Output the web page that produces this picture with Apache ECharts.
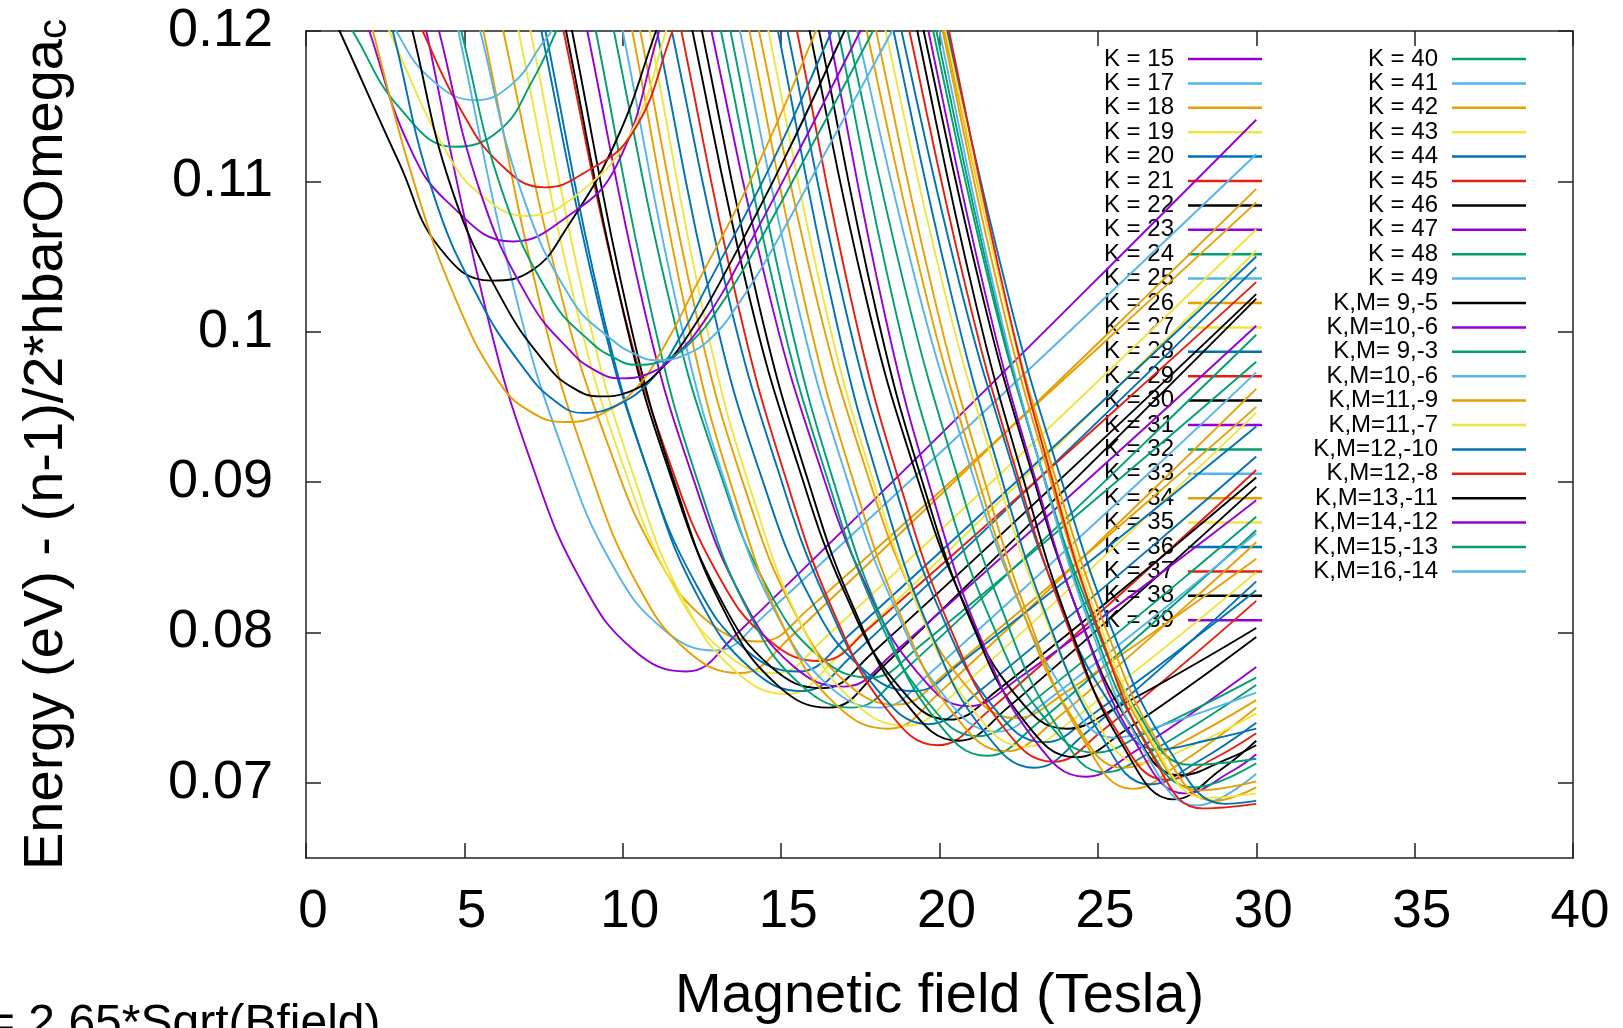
<!DOCTYPE html>
<html>
<head>
<meta charset="utf-8">
<title>Energy vs magnetic field</title>
<script src="https://cdn.jsdelivr.net/npm/echarts@6/dist/echarts.min.js"></script>
<style>
  html, body { margin: 0; padding: 0; background: #ffffff; }
  #chart { width: 1623px; height: 1028px; }
</style>
</head>
<body>
<div id="chart"></div>
<script>
// gnuplot default line colours, in plotting order
const lineColors = ['#9400d3', '#009e73', '#56b4e9', '#e69f00', '#f0e442', '#0072b2', '#e51e10', '#000000'];

// Axis ticks
const xTicks = [0, 5, 10, 15, 20, 25, 30, 35, 40];
const yTicks = [0.07, 0.08, 0.09, 0.1, 0.11, 0.12];

// ---- Energy curves [B (Tesla), E (eV)] ----
const k15  = [[3.35,.125],[3.8,.12],[5.65,.1017],[7.16,.0910],[8.72,.0833],[10.36,.0788],[12.0,.0774],[13.5,.0797],[30,.1141]];
const k17  = [[4.36,.125],[4.81,.12],[6.63,.1023],[8.13,.0920],[9.67,.0845],[11.29,.0802],[12.91,.0788],[14.41,.0810],[30,.1118]];
const k18a = [[5.15,.125],[5.6,.12],[7.42,.1016],[8.92,.0910],[10.46,.0832],[12.08,.0787],[13.7,.0773],[15.2,.0795],[30,.1095]];
const k18b = [[5.78,.125],[6.23,.12],[8.05,.1025],[9.55,.0924],[11.09,.0850],[12.71,.0807],[14.33,.0794],[15.83,.0815],[30,.1086]];
const k19a = [[6.26,.125],[6.71,.12],[8.53,.1016],[10.03,.0910],[11.57,.0832],[13.19,.0787],[14.81,.0773],[16.31,.0795],[30,.1068]];
const k19b = [[6.64,.125],[7.09,.12],[8.91,.1010],[10.41,.0900],[11.95,.0820],[13.57,.0774],[15.19,.0759],[16.69,.0782],[30,.1054]];
const k20a = [[6.98,.125],[7.43,.12],[9.25,.1017],[10.75,.0910],[12.29,.0833],[13.91,.0788],[15.53,.0774],[17.03,.0796],[30,.1050]];
const k20b = [[7.11,.125],[7.56,.12],[9.38,.1011],[10.88,.0902],[12.42,.0822],[14.04,.0776],[15.66,.0761],[17.16,.0783],[30,.1043]];
const k21  = [[7.68,.125],[8.13,.12],[9.95,.1020],[11.45,.0915],[12.99,.0839],[14.61,.0795],[16.23,.0781],[17.73,.0802],[30,.1033]];
const k22a = [[7.76,.125],[8.21,.12],[10.03,.1012],[11.53,.0903],[13.07,.0823],[14.69,.0777],[16.31,.0763],[17.81,.0785],[30,.1025]];
const k22b = [[7.95,.125],[8.4,.12],[10.22,.1007],[11.72,.0894],[13.26,.0812],[14.88,.0765],[16.5,.0750],[18.0,.0773],[30,.1022]];
const k23  = [[8.43,.125],[8.88,.12],[10.7,.1013],[12.2,.0904],[13.74,.0824],[15.36,.0778],[16.98,.0764],[18.48,.0785],[30,.1004]];
const k24a = [[8.7,.125],[9.15,.12],[10.97,.1007],[12.47,.0894],[14.01,.0812],[15.63,.0765],[17.25,.0750],[18.75,.0772],[30,.0998]];
const k24b = [[9.27,.125],[9.72,.12],[11.54,.1015],[13.04,.0908],[14.58,.0829],[16.2,.0784],[17.82,.0770],[19.32,.0790],[30,.0980]];
const k25  = [[9.55,.125],[10.0,.12],[11.82,.1007],[13.32,.0894],[14.86,.0812],[16.48,.0765],[18.1,.0750],[19.6,.0771],[30,.0973]];
const k26a = [[9.85,.125],[10.3,.12],[12.12,.1001],[13.62,.0885],[15.16,.0800],[16.78,.0751],[18.4,.0736],[19.9,.0758],[30,.0962]];
const k26b = [[10.1,.125],[10.55,.12],[12.37,.1007],[13.87,.0895],[15.41,.0814],[17.03,.0767],[18.65,.0752],[20.15,.0772],[30,.0950]];
const k27  = [[10.4,.125],[10.85,.12],[12.67,.1001],[14.17,.0886],[15.71,.0802],[17.33,.0753],[18.95,.0738],[20.45,.0759],[30,.0946]];
const k28a = [[10.63,.125],[11.08,.12],[12.9,.1011],[14.4,.0902],[15.94,.0822],[17.56,.0776],[19.18,.0761],[20.68,.0780],[30,.0937]];
const k28b = [[11.1,.125],[11.55,.12],[13.37,.1020],[14.87,.0910],[16.41,.0822],[18.03,.0762],[19.65,.0739],[21.15,.0759],[30,.0917]];
const k29  = [[11.4,.125],[11.85,.12],[13.67,.1015],[15.17,.0901],[16.71,.0811],[18.33,.0749],[19.95,.0725],[21.45,.0746],[30,.0908]];
const k30a = [[11.75,.125],[12.2,.12],[14.02,.1021],[15.52,.0912],[17.06,.0824],[18.68,.0765],[20.3,.0742],[21.8,.0761],[30,.0903]];
const k30b = [[12.05,.125],[12.5,.12],[14.32,.1016],[15.82,.0903],[17.36,.0813],[18.98,.0752],[20.6,.0728],[22.1,.0749],[30,.0897]];
const k31  = [[12.35,.125],[12.8,.12],[14.62,.1025],[16.12,.0917],[17.66,.0832],[19.28,.0774],[20.9,.0751],[22.4,.0768],[30,.0888]];
const k32a = [[12.65,.125],[13.1,.12],[14.92,.1017],[16.42,.0905],[17.96,.0815],[19.58,.0755],[21.2,.0731],[22.7,.0750],[30,.0877]];
const k32b = [[12.95,.125],[13.4,.12],[15.22,.1012],[16.72,.0896],[18.26,.0805],[19.88,.0742],[21.5,.0718],[23.0,.0738],[30,.0868]];
const k33  = [[13.25,.125],[13.7,.12],[15.52,.1018],[17.02,.0906],[18.56,.0818],[20.18,.0757],[21.8,.0734],[23.3,.0753],[30,.0866]];
const k34a = [[13.55,.125],[14.0,.12],[15.82,.1013],[17.32,.0898],[18.86,.0807],[20.48,.0745],[22.1,.0721],[23.6,.0741],[30,.0860]];
const k34b = [[13.85,.125],[14.3,.12],[16.12,.1022],[17.62,.0912],[19.16,.0825],[20.78,.0766],[22.4,.0743],[23.9,.0759],[30,.0849]];
const k35  = [[14.15,.125],[14.6,.12],[16.42,.1014],[17.92,.0900],[19.46,.0810],[21.08,.0748],[22.7,.0724],[24.2,.0742],[30,.0840]];
const k36a = [[14.45,.125],[14.9,.12],[16.72,.1009],[18.22,.0891],[19.76,.0798],[21.38,.0735],[23.0,.0710],[24.5,.0731],[30,.0834]];
const k36b = [[14.75,.125],[15.2,.12],[17.02,.1016],[18.52,.0902],[20.06,.0812],[21.68,.0751],[23.3,.0727],[24.8,.0745],[30,.0828]];
const k37  = [[15.05,.125],[15.5,.12],[17.32,.1011],[18.82,.0894],[20.36,.0802],[21.98,.0738],[23.6,.0714],[25.1,.0734],[30,.0821]];
const k38a = [[15.45,.125],[15.9,.12],[17.72,.1019],[19.22,.0908],[20.76,.0820],[22.38,.0759],[24.0,.0736],[25.5,.0749],[30,.0803]];
const k38b = [[15.75,.125],[16.2,.12],[18.02,.1012],[19.52,.0896],[21.06,.0804],[22.68,.0741],[24.3,.0717],[25.8,.0734],[30,.0797]];
const k39  = [[16.05,.125],[16.5,.12],[18.32,.1007],[19.82,.0888],[21.36,.0793],[22.98,.0729],[24.6,.0704],[26.1,.0720],[30,.0777]];
const k40a = [[16.35,.125],[16.8,.12],[18.62,.1013],[20.12,.0898],[21.66,.0806],[23.28,.0744],[24.9,.0720],[26.4,.0732],[30,.0770]];
const k40b = [[16.65,.125],[17.1,.12],[18.92,.1028],[20.42,.0914],[21.96,.0816],[23.58,.0742],[25.2,.0707],[26.7,.0721],[30,.0765]];
const k41  = [[16.95,.125],[17.4,.12],[19.22,.1036],[20.72,.0927],[22.26,.0833],[23.88,.0763],[25.5,.0730],[27.0,.0738],[30,.0760]];
const k42a = [[17.25,.125],[17.7,.12],[19.52,.1029],[21.02,.0916],[22.56,.0818],[24.18,.0744],[25.8,.0710],[27.3,.0723],[30,.0755]];
const k42b = [[17.55,.125],[18.0,.12],[19.82,.1024],[21.32,.0908],[22.86,.0807],[24.48,.0731],[26.1,.0696],[27.6,.0713],[30,.0750]];
const k43  = [[17.85,.125],[18.3,.12],[20.12,.1030],[21.62,.0918],[23.16,.0820],[24.78,.0747],[26.4,.0713],[27.9,.0724],[30,.0746]];
const k44a = [[18.1,.125],[18.55,.12],[20.37,.1025],[21.87,.0909],[23.41,.0809],[25.03,.0734],[26.65,.0699],[28.15,.0714],[30,.0740]];
const k44b = [[18.35,.125],[18.8,.12],[20.62,.1033],[22.12,.0923],[23.66,.0827],[25.28,.0756],[26.9,.0722],[28.4,.0728],[30,.0736]];
const k45  = [[18.6,.125],[19.05,.12],[20.87,.1026],[22.37,.0911],[23.91,.0812],[25.53,.0737],[27.15,.0702],[28.65,.0716],[30,.0733]];
const k46a = [[18.85,.125],[19.3,.12],[21.12,.1021],[22.62,.0904],[24.16,.0801],[25.78,.0725],[27.4,.0689],[28.9,.0709],[30,.0728]];
const k46b = [[19.05,.125],[19.5,.12],[21.32,.1027],[22.82,.0913],[24.36,.0814],[25.98,.0740],[27.6,.0705],[29.1,.0716],[30,.0725]];
const k47  = [[19.2,.125],[19.65,.12],[21.47,.1023],[22.97,.0906],[24.51,.0805],[26.13,.0729],[27.75,.0693],[29.25,.0708],[30,.0719]];
const k48a = [[19.35,.125],[19.8,.12],[21.62,.1028],[23.12,.0916],[24.66,.0819],[26.28,.0746],[27.9,.0712],[30,.0716]];
const k48b = [[19.45,.125],[19.9,.12],[21.72,.1024],[23.22,.0908],[24.76,.0808],[26.38,.0732],[28.0,.0697],[30,.0713]];
const k49  = [[19.55,.125],[20.0,.12],[21.82,.1020],[23.32,.0901],[24.86,.0798],[26.48,.0721],[28.1,.0685],[30,.0706]];
const k50a = [[19.65,.125],[20.1,.12],[21.92,.1023],[23.42,.0907],[24.96,.0806],[26.58,.0730],[28.2,.0695],[30,.0701]];
const k50b = [[19.7,.125],[20.15,.12],[22.07,.1021],[23.66,.0903],[25.28,.0801],[26.99,.0724],[28.7,.0688],[30,.0697]];
const k51  = [[19.75,.125],[20.2,.12],[22.05,.1022],[23.56,.0904],[25.12,.0802],[26.76,.0726],[28.4,.0690],[30,.0693]];
const k52  = [[19.8,.125],[20.25,.12],[22.22,.1020],[23.84,.0902],[25.5,.0799],[27.25,.0722],[29.0,.0686],[30,.0688]];
const k53  = [[19.85,.125],[20.3,.12],[22.12,.1019],[23.58,.0900],[25.1,.0797],[26.7,.0719],[28.3,.0683],[30,.0686]];

// low-K states (K,M)
const km9m5   = [[0.4,.123],[1.06,.12],[2.95,.1112],[4.21,.1056],[5.85,.1034],[7.15,.1041],[8.2,.1068],[9.79,.1127],[11.05,.12],[11.5,.1228]];
const km10m6a = [[1.5,.1235],[2.0,.12],[3.27,.1123],[4.53,.1085],[6.52,.1060],[8.21,.1076],[9.79,.1110],[11.15,.12],[11.6,.1235]];
const km9m3   = [[0.6,.123],[1.47,.12],[2.95,.1149],[4.69,.1123],[6.11,.1134],[7.15,.1167],[7.9,.12],[8.3,.1222]];
const km10m6b = [[2.45,.1225],[2.85,.12],[4.0,.1167],[5.37,.1154],[6.52,.1165],[7.47,.1192],[7.75,.12],[8.1,.1215]];
const km11m9  = [[1.75,.1232],[2.11,.12],[3.4,.1100],[4.74,.1021],[6.11,.0966],[7.15,.0946],[8.2,.0940],[9.3,.0945],[10.4,.0962],[11.3,.0990],[12.2,.1026],[14.2,.1108],[16.1,.12],[16.5,.1222]];
const km11m7  = [[2.2,.1225],[2.63,.12],[4.53,.1116],[5.7,.1088],[6.95,.1077],[8.73,.1094],[10.3,.1134],[11.37,.12],[11.8,.1232]];
const km12m10 = [[2.35,.1232],[2.74,.12],[4.0,.1093],[5.48,.1021],[6.9,.0975],[7.8,.0955],[8.73,.0946],[9.8,.0951],[10.9,.0968],[11.8,.0996],[12.7,.1032],[14.7,.1112],[16.6,.12],[17.0,.122]];
const km12m8  = [[3.0,.1232],[3.68,.12],[4.85,.1149],[6.11,.1112],[7.53,.1096],[8.73,.1105],[10.3,.1132],[11.57,.12],[12.0,.1228]];
const km13m11 = [[3.0,.1232],[3.36,.12],[4.6,.1095],[6.2,.1021],[7.6,.0978],[8.4,.0963],[9.27,.0957],[10.2,.0960],[11.2,.0975],[12.2,.1002],[13.2,.1038],[15.1,.1115],[17.0,.12],[17.4,.1219]];
const km14m12 = [[3.85,.1232],[4.2,.12],[5.5,.1093],[7.05,.1021],[8.4,.0986],[9.15,.0974],[9.9,.0969],[10.8,.0972],[11.7,.0985],[12.7,.1011],[13.7,.1047],[15.6,.1122],[17.5,.12],[17.9,.1218]];
const km15m13 = [[4.55,.1232],[4.9,.12],[6.2,.1093],[7.78,.1021],[9.0,.0993],[9.7,.0983],[10.4,.0978],[11.3,.0981],[12.2,.0994],[13.1,.1018],[14.1,.1052],[16.0,.1125],[17.9,.12],[18.3,.1218]];
const km16m14 = [[5.15,.1232],[5.5,.12],[6.8,.1093],[8.4,.1021],[9.7,.0994],[10.4,.0985],[11.05,.0981],[11.9,.0984],[12.8,.0996],[13.7,.1020],[14.7,.1054],[16.6,.1127],[18.5,.12],[18.9,.1218]];

// [series name, colour index, curve]
const curveTable = [
  ['K = 15', 0, k15], ['K = 17', 2, k17],
  ['K = 18', 3, k18a], ['K = 18', 3, k18b],
  ['K = 19', 4, k19a], ['K = 19', 4, k19b],
  ['K = 20', 5, k20a], ['K = 20', 5, k20b],
  ['K = 21', 6, k21],
  ['K = 22', 7, k22a], ['K = 22', 7, k22b],
  ['K = 23', 0, k23],
  ['K = 24', 1, k24a], ['K = 24', 1, k24b],
  ['K = 25', 2, k25],
  ['K = 26', 3, k26a], ['K = 26', 3, k26b],
  ['K = 27', 4, k27],
  ['K = 28', 5, k28a], ['K = 28', 5, k28b],
  ['K = 29', 6, k29],
  ['K = 30', 7, k30a], ['K = 30', 7, k30b],
  ['K = 31', 0, k31],
  ['K = 32', 1, k32a], ['K = 32', 1, k32b],
  ['K = 33', 2, k33],
  ['K = 34', 3, k34a], ['K = 34', 3, k34b],
  ['K = 35', 4, k35],
  ['K = 36', 5, k36a], ['K = 36', 5, k36b],
  ['K = 37', 6, k37],
  ['K = 38', 7, k38a], ['K = 38', 7, k38b],
  ['K = 39', 0, k39],
  ['K = 40', 1, k40a], ['K = 40', 1, k40b],
  ['K = 41', 2, k41],
  ['K = 42', 3, k42a], ['K = 42', 3, k42b],
  ['K = 43', 4, k43],
  ['K = 44', 5, k44a], ['K = 44', 5, k44b],
  ['K = 45', 6, k45],
  ['K = 46', 7, k46a], ['K = 46', 7, k46b],
  ['K = 47', 0, k47],
  ['K = 48', 1, k48a], ['K = 48', 1, k48b],
  ['K = 49', 2, k49],
  ['K = 50', 3, k50a], ['K = 50', 3, k50b],
  ['K = 51', 4, k51], ['K = 52', 5, k52], ['K = 53', 6, k53],
  ['K,M= 9,-5', 7, km9m5],
  ['K,M=10,-6', 0, km10m6a],
  ['K,M= 9,-3', 1, km9m3],
  ['K,M=10,-6 ', 2, km10m6b],
  ['K,M=11,-9', 3, km11m9],
  ['K,M=11,-7', 4, km11m7],
  ['K,M=12,-10', 5, km12m10],
  ['K,M=12,-8', 6, km12m8],
  ['K,M=13,-11', 7, km13m11],
  ['K,M=14,-12', 0, km14m12],
  ['K,M=15,-13', 1, km15m13],
  ['K,M=16,-14', 2, km16m14]
];

// key entries, two columns
const keyLeft = ['K = 15','K = 17','K = 18','K = 19','K = 20','K = 21','K = 22','K = 23','K = 24','K = 25','K = 26','K = 27',
                 'K = 28','K = 29','K = 30','K = 31','K = 32','K = 33','K = 34','K = 35','K = 36','K = 37','K = 38','K = 39'];
const keyRight = ['K = 40','K = 41','K = 42','K = 43','K = 44','K = 45','K = 46','K = 47','K = 48','K = 49',
                  'K,M= 9,-5','K,M=10,-6','K,M= 9,-3','K,M=10,-6 ','K,M=11,-9','K,M=11,-7','K,M=12,-10','K,M=12,-8',
                  'K,M=13,-11','K,M=14,-12','K,M=15,-13','K,M=16,-14'];

const FONT = "'Liberation Sans', Arial, Helvetica, sans-serif";
const AXIS_COLOR = '#222';

const series = curveTable.map(([name, ci, pts]) => ({
  type: 'line',
  name: name,
  data: pts,
  symbol: 'none',
  smooth: 0.45,
  clip: true,
  silent: true,
  lineStyle: { color: lineColors[ci], width: 1.9 },
  itemStyle: { color: lineColors[ci] },
  emphasis: { disabled: true }
}));

function keyColumn(names, right) {
  return {
    data: names,
    orient: 'vertical',
    right: right,
    top: 46.8,
    align: 'right',
    icon: 'rect',
    itemWidth: 74,
    itemHeight: 2.5,
    itemGap: 0,
    padding: 0,
    z: 1,
    selectedMode: false,
    formatter: n => n.trim(),
    textStyle: { fontSize: 24, lineHeight: 24.4, fontFamily: FONT, color: '#000', padding: [0, 9, 0, 0] }
  };
}

const axisLine = { show: true, onZero: false, lineStyle: { color: AXIS_COLOR, width: 1.5 } };
const tickStyle = { color: AXIS_COLOR, width: 1.5 };

const option = {
  animation: false,
  backgroundColor: '#ffffff',
  grid: { left: 306, right: 50, top: 31, bottom: 170, containLabel: false, outerBoundsMode: 'none' },
  legend: [keyColumn(keyLeft, 361), keyColumn(keyRight, 97)],
  xAxis: [
    {
      type: 'value', min: xTicks[0], max: xTicks[xTicks.length - 1], interval: 5, position: 'bottom',
      name: 'Magnetic field (Tesla)', nameLocation: 'middle', nameGap: 111,
      nameTextStyle: { fontSize: 56, color: '#000', fontFamily: FONT },
      axisLine: axisLine,
      axisTick: { show: true, inside: true, length: 15, lineStyle: tickStyle },
      axisLabel: { fontSize: 53, color: '#000', fontFamily: FONT, margin: 28, padding: [0, 0, 0, 14] },
      splitLine: { show: false }
    },
    {
      type: 'value', min: xTicks[0], max: xTicks[xTicks.length - 1], interval: 5, position: 'top',
      axisLine: axisLine,
      axisTick: { show: true, inside: true, length: 15, lineStyle: tickStyle },
      axisLabel: { show: false },
      splitLine: { show: false }
    }
  ],
  yAxis: [
    {
      type: 'value', min: 0.065, max: 0.12, position: 'left',
      name: 'Energy (eV) - (n-1)/2*hbarOmega{sub|c}', nameLocation: 'middle', nameGap: 231, nameRotate: 90,
      nameTextStyle: {
        fontSize: 56, lineHeight: 56, color: '#000', fontFamily: FONT,
        rich: { sub: { fontSize: 40, lineHeight: 32, verticalAlign: 'bottom', color: '#000', fontFamily: FONT } }
      },
      axisLine: axisLine,
      axisTick: { show: true, inside: true, length: 15, lineStyle: tickStyle, customValues: yTicks },
      axisLabel: { fontSize: 54, color: '#000', fontFamily: FONT, margin: 33, customValues: yTicks, formatter: v => String(v) },
      splitLine: { show: false }
    },
    {
      type: 'value', min: 0.065, max: 0.12, position: 'right',
      axisLine: axisLine,
      axisTick: { show: true, inside: true, length: 15, lineStyle: tickStyle, customValues: yTicks },
      axisLabel: { show: false, customValues: yTicks },
      splitLine: { show: false }
    }
  ],
  graphic: [
    {
      type: 'text', left: -13, top: 1001, silent: true,
      style: { text: '= 2.65*Sqrt(Bfield)', fontSize: 48, fontFamily: FONT, fill: '#000' }
    }
  ],
  series: series
};

const chart = echarts.init(document.getElementById('chart'), null, { renderer: 'canvas' });
chart.setOption(option);
</script>
</body>
</html>
